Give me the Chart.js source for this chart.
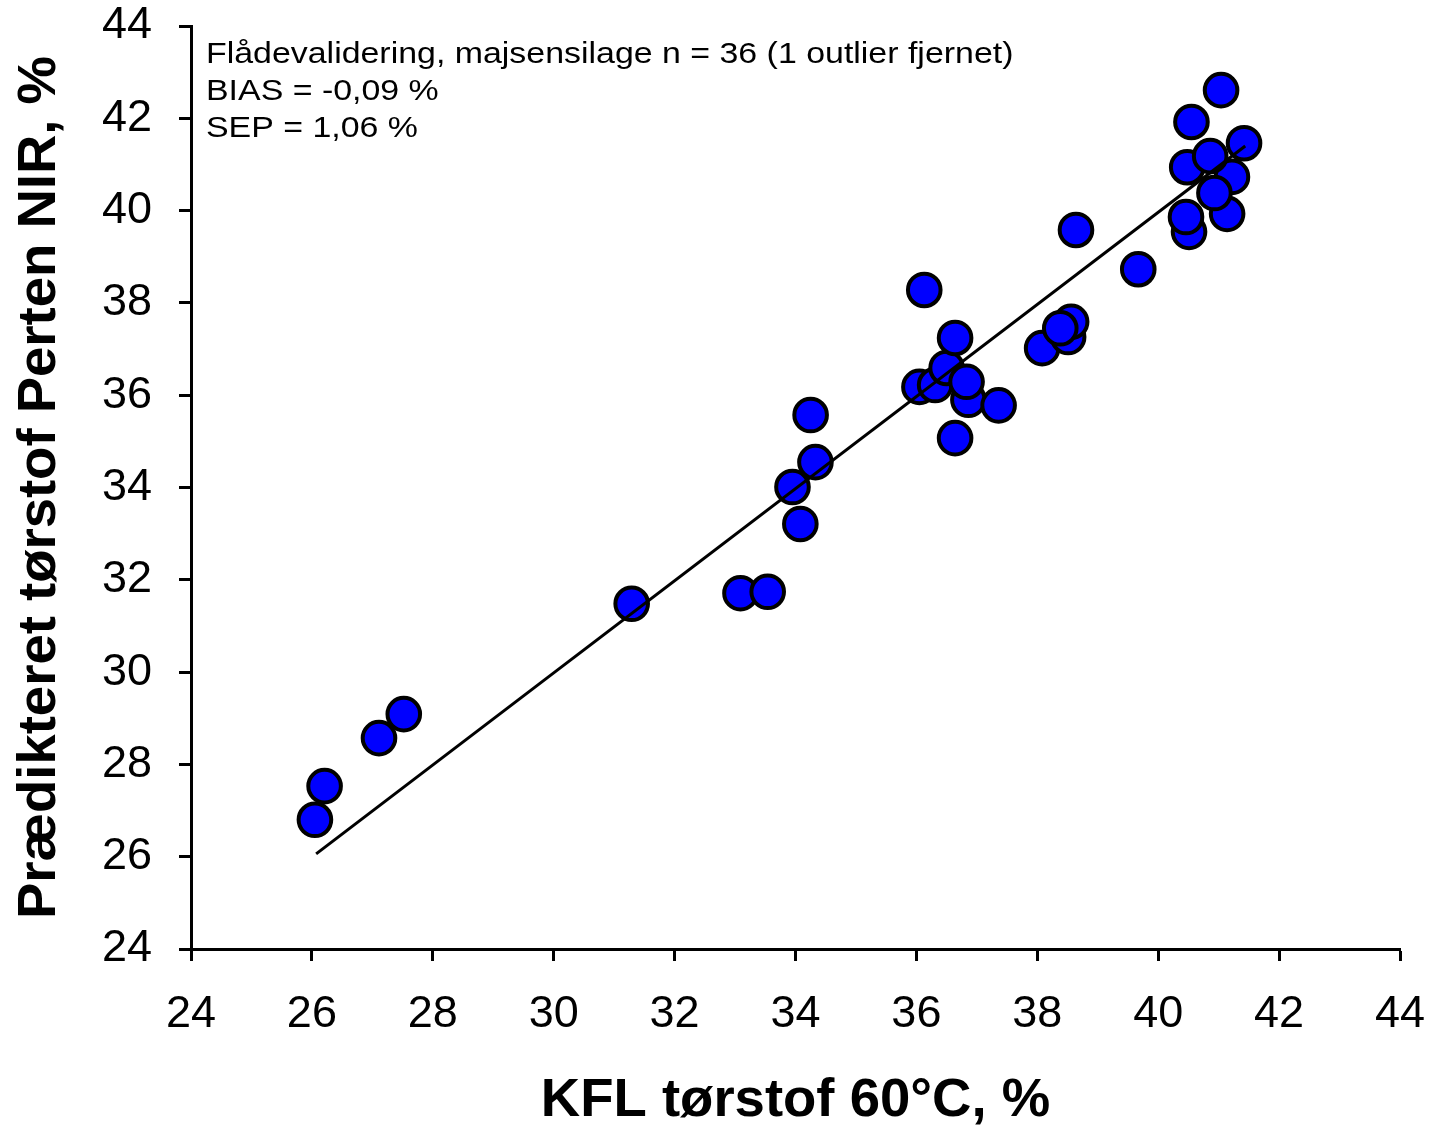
<!DOCTYPE html>
<html>
<head>
<meta charset="utf-8">
<script src="https://cdn.jsdelivr.net/npm/chart.js@4.4.1/dist/chart.umd.min.js"></script>
<style>
	html, body { margin: 0; padding: 0; background: #fff; }
	canvas { display: block; }
</style>
</head>
<body>
<canvas id="graph" width="1431" height="1128"></canvas>
<script>
// KFL dry matter (x) vs. predicted dry matter Perten NIR (y), maize silage
const kflValues = [26.05, 26.21, 27.11, 27.52, 31.29, 33.09, 33.54, 34.08, 33.95, 34.33,
	34.25, 36.13, 36.05, 36.31, 36.50, 36.64, 36.86, 36.83, 36.64, 37.36,
	38.08, 38.51, 38.56, 38.38, 38.64, 39.67, 40.51, 40.46, 41.42, 40.48,
	41.22, 40.86, 41.14, 40.93, 40.55, 41.04];
const nirValues = [26.80, 27.53, 28.57, 29.09, 31.48, 31.71, 31.74, 33.21, 34.01, 34.55,
	35.57, 38.28, 36.18, 36.22, 36.59, 37.24, 35.90, 36.29, 35.07, 35.78,
	37.02, 37.26, 37.59, 37.45, 39.58, 38.73, 39.54, 39.86, 41.46, 40.94,
	40.73, 41.18, 39.93, 40.38, 41.92, 42.61];

// regression line end points
const fitX = [26.07, 41.44];
const fitY = [26.06, 41.40];

const axisTicks = [24, 26, 28, 30, 32, 34, 36, 38, 40, 42, 44];

const xTitle = 'KFL tørstof 60°C, %';
const yTitle = 'Prædikteret tørstof Perten NIR, %';
const noteLines = [
	'Flådevalidering, majsensilage n = 36 (1 outlier fjernet)',
	'BIAS = -0,09 %',
	'SEP = 1,06 %'
];

const FONT = "'Liberation Sans', Arial, sans-serif";

// text box in the upper left corner of the plot
const notePlugin = {
	id: 'note',
	afterDraw(chart) {
		const ctx = chart.ctx;
		ctx.save();
		ctx.fillStyle = '#000';
		ctx.font = '30px ' + FONT;
		ctx.textBaseline = 'alphabetic';
		noteLines.forEach(function(line, i) {
			ctx.save();
			ctx.translate(chart.chartArea.left + 15, 63 + i * 37);
			ctx.scale(1.13, 1);
			ctx.fillText(line, 0, 0);
			ctx.restore();
		});
		ctx.restore();
	}
};

function axisOptions(title, isX) {
	return {
		type: 'linear',
		min: axisTicks[0],
		max: axisTicks[axisTicks.length - 1],
		afterBuildTicks: function(scale) {
			scale.ticks = axisTicks.map(function(v) { return {value: v}; });
		},
		afterFit: function(scale) {
			if (isX) scale.height = 179;
			else scale.width = 191;
			// the plot box is fixed by layout.padding, not by label overflow
			scale.paddingTop = 0;
			scale.paddingBottom = 0;
			scale.paddingLeft = 0;
			scale.paddingRight = 0;
		},
		border: { display: true, color: '#000', width: 3 },
		grid: {
			drawOnChartArea: false,
			drawTicks: true,
			tickLength: 12,
			tickWidth: 3,
			tickColor: '#000'
		},
		ticks: {
			color: '#000',
			padding: isX ? 31 : 27,
			maxRotation: 0,
			autoSkip: false,
			font: { family: FONT, size: 45, lineHeight: 1 }
		},
		title: {
			display: true,
			text: title,
			color: '#000',
			padding: isX ? {top: 0, bottom: 0} : {top: 13, bottom: 0},
			font: { family: FONT, size: 54.5, weight: 'bold', lineHeight: 1 }
		}
	};
}

const ctx = document.getElementById('graph').getContext('2d');
new Chart(ctx, {
	type: 'scatter',
	data: {
		datasets: [
			{
				type: 'line',
				label: 'fit',
				data: fitX.map(function(x, i) { return {x: x, y: fitY[i]}; }),
				borderColor: '#000',
				borderWidth: 3,
				pointRadius: 0,
				fill: false,
				order: 0
			},
			{
				label: 'samples',
				data: kflValues.map(function(x, i) { return {x: x, y: nirValues[i]}; }),
				backgroundColor: '#0000ff',
				borderColor: '#000',
				borderWidth: 4,
				pointRadius: 16.3,
				pointHoverRadius: 16.3,
				clip: false,
				order: 1
			}
		]
	},
	options: {
		responsive: false,
		animation: false,
		devicePixelRatio: 1,
		layout: { padding: { top: 26, right: 31, left: 0, bottom: 0 } },
		plugins: {
			legend: { display: false },
			tooltip: { enabled: false }
		},
		scales: {
			x: axisOptions(xTitle, true),
			y: axisOptions(yTitle, false)
		}
	},
	plugins: [notePlugin]
});
</script>
</body>
</html>
